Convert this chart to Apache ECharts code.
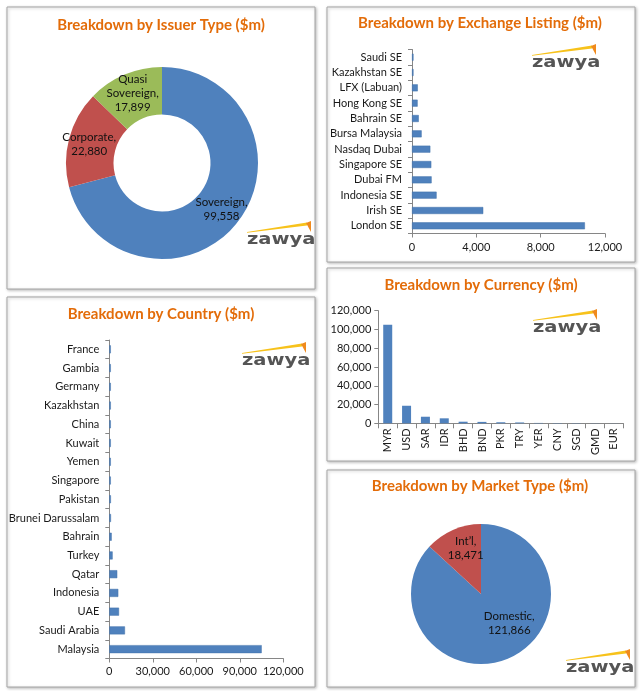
<!DOCTYPE html>
<html><head><meta charset="utf-8">
<script src="https://cdn.jsdelivr.net/npm/echarts/dist/echarts.min.js"></script>
<style>html,body{margin:0;padding:0;background:#fff}#c{width:640px;height:691px}</style>
</head><body><div id="c"></div>
<script>
// ---- data ----
const issuerTypes = ['Sovereign', 'Corporate', 'Quasi Sovereign'];
const issuerValues = [99558, 22880, 17899];

const exchangeNames = ['London SE', 'Irish SE', 'Indonesia SE', 'Dubai FM', 'Singapore SE', 'Nasdaq Dubai',
  'Bursa Malaysia', 'Bahrain SE', 'Hong Kong SE', 'LFX (Labuan)', 'Kazakhstan SE', 'Saudi SE'];
const exchangeValues = [10750, 4430, 1530, 1220, 1200, 1140, 600, 420, 350, 360, 80, 40];
const exchangeAxis = { min: 0, max: 12000, interval: 4000 };

const countryNames = ['Malaysia', 'Saudi Arabia', 'UAE', 'Indonesia', 'Qatar', 'Turkey', 'Bahrain',
  'Brunei Darussalam', 'Pakistan', 'Singapore', 'Yemen', 'Kuwait', 'China', 'Kazakhstan', 'Germany', 'Gambia', 'France'];
const countryValues = [105100, 10800, 6700, 6200, 5500, 2300, 1650, 1150, 1100, 500, 400, 350, 300, 250, 200, 150, 100];
const countryAxis = { min: 0, max: 120000, interval: 30000 };

const currencyNames = ['MYR', 'USD', 'SAR', 'IDR', 'BHD', 'BND', 'PKR', 'TRY', 'YER', 'CNY', 'SGD', 'GMD', 'EUR'];
const currencyValues = [105000, 18700, 7000, 5300, 1700, 1500, 1100, 900, 400, 300, 250, 150, 100];
const currencyAxis = { min: 0, max: 120000, interval: 20000 };

const marketTypes = ['Domestic', 'Int\u2019l'];
const marketValues = [121866, 18471];

const titles = ['Breakdown by Issuer Type ($m)', 'Breakdown by Exchange Listing ($m)', 'Breakdown by Country ($m)',
  'Breakdown by Currency ($m)', 'Breakdown by Market Type ($m)'];

// ---- styles ----
const FONT = 'Lato';
const BLUE = '#4F81BD', RED = '#C0504D', GREEN = '#9BBB59';
const AXIS = '#868686';
const fmt = v => Number(v).toLocaleString('en-US');

function panel(x, y, w, h) {
  return { type: 'rect', z: -10, shape: { x, y, width: w, height: h },
    style: { fill: '#fff', stroke: '#a6a6a6', lineWidth: 1, shadowBlur: 3, shadowOffsetX: 1, shadowOffsetY: 1, shadowColor: 'rgba(0,0,0,0.25)' } };
}
function logo(x, y) {
  return { type: 'group', x, y, z: 5, children: [
    { type: 'polygon', shape: { points: [[0, 10], [60, 0.5], [60, 3.5], [0, 10.8]] }, style: { fill: '#F7C21B' } },
    { type: 'polygon', shape: { points: [[59, 1], [64, -1], [64, 10]] }, style: { fill: '#F08A1D' } },
    { type: 'text', x: 0, y: 11, scaleX: 1.3, style: { text: 'zawya', font: 'bold 15px "DejaVu Sans"', fill: '#555555', align: 'left', verticalAlign: 'top' } }
  ] };
}
const titleStyle = { color: '#E36C09', fontFamily: FONT, fontWeight: 'bold', fontSize: 15 };
function mkTitle(text, cx, cy) {
  return { text, left: cx, top: cy - 10, textAlign: 'center', textStyle: titleStyle, padding: 0 };
}
const axisLabel = { color: '#1a1a1a', fontFamily: FONT, fontSize: 11 };
const axisLine = { show: true, lineStyle: { color: AXIS, width: 1 } };
const axisTick = { show: true, length: 4, lineStyle: { color: AXIS } };
const barStyle = { color: BLUE, borderColor: '#4372AA', borderWidth: 0.5 };

const pieLabel = {
  show: true, position: 'inside', color: '#111', fontFamily: FONT, fontSize: 11.5, lineHeight: 14,
  formatter: p => p.name.split(' ').join('\n') + ',\n' + fmt(p.value)
};

const option = {
  animation: false,
  backgroundColor: '#fff',
  title: [
    mkTitle(titles[0], 161, 28),
    mkTitle(titles[1], 480, 26),
    mkTitle(titles[2], 161, 317),
    mkTitle(titles[3], 481, 288),
    mkTitle(titles[4], 480, 489)
  ],
  graphic: [
    panel(7, 7, 308, 282), panel(327, 7, 308, 255), panel(7, 297, 308, 390),
    panel(327, 268, 308, 193), panel(327, 470, 308, 217),
    logo(247, 222), logo(532, 45), logo(242, 343), logo(533, 310), logo(566, 650)
  ],
  grid: [
    { left: 412, top: 49.5, width: 193, height: 184 },
    { left: 109.3, top: 340, width: 174, height: 318.5 },
    { left: 378.3, top: 310.7, width: 245, height: 112.6 }
  ],
  xAxis: [
    { gridIndex: 0, type: 'value', min: exchangeAxis.min, max: exchangeAxis.max, interval: exchangeAxis.interval,
      axisLine, axisTick, splitLine: { show: false }, axisLabel: { ...axisLabel, margin: 8, formatter: fmt } },
    { gridIndex: 1, type: 'value', min: countryAxis.min, max: countryAxis.max, interval: countryAxis.interval,
      axisLine, axisTick, splitLine: { show: false }, axisLabel: { ...axisLabel, margin: 7, formatter: fmt } },
    { gridIndex: 2, type: 'category', data: currencyNames, axisLine, axisTick: { ...axisTick, length: 5 },
      axisLabel: { ...axisLabel, rotate: 90, margin: 5 } }
  ],
  yAxis: [
    { gridIndex: 0, type: 'category', data: exchangeNames, axisLine, axisTick, axisLabel: { ...axisLabel, margin: 10 } },
    { gridIndex: 1, type: 'category', data: countryNames, axisLine, axisTick, axisLabel: { ...axisLabel, margin: 10 } },
    { gridIndex: 2, type: 'value', min: currencyAxis.min, max: currencyAxis.max, interval: currencyAxis.interval,
      axisLine, axisTick, splitLine: { show: false }, axisLabel: { ...axisLabel, margin: 7, formatter: fmt } }
  ],
  series: [
    { type: 'pie', center: [162, 163], radius: [48.5, 96], startAngle: 90, clockwise: true,
      data: issuerTypes.map((n, i) => ({ name: n, value: issuerValues[i] })),
      color: [BLUE, RED, GREEN], label: pieLabel, labelLine: { show: false }, emphasis: { disabled: true } },
    { type: 'bar', xAxisIndex: 0, yAxisIndex: 0, data: exchangeValues, barWidth: 7, barMinHeight: 1.5, itemStyle: barStyle },
    { type: 'bar', xAxisIndex: 1, yAxisIndex: 1, data: countryValues, barWidth: 8, barMinHeight: 1.5, itemStyle: barStyle },
    { type: 'bar', xAxisIndex: 2, yAxisIndex: 2, data: currencyValues, barWidth: 9, itemStyle: { color: BLUE, borderWidth: 0 } },
    { type: 'pie', center: [481, 594], radius: [0, 70], startAngle: 90, clockwise: true,
      data: marketTypes.map((n, i) => ({ name: n, value: marketValues[i] })),
      color: [BLUE, RED], label: pieLabel, labelLine: { show: false }, emphasis: { disabled: true },
      labelLayout: p => (p.dataIndex === 0 ? { dx: 13, dy: -6 } : { dx: 0, dy: -11 }) }
  ]
};

const chart = echarts.init(document.getElementById('c'), null, { renderer: 'canvas' });
chart.setOption(option);
</script>
</body></html>
